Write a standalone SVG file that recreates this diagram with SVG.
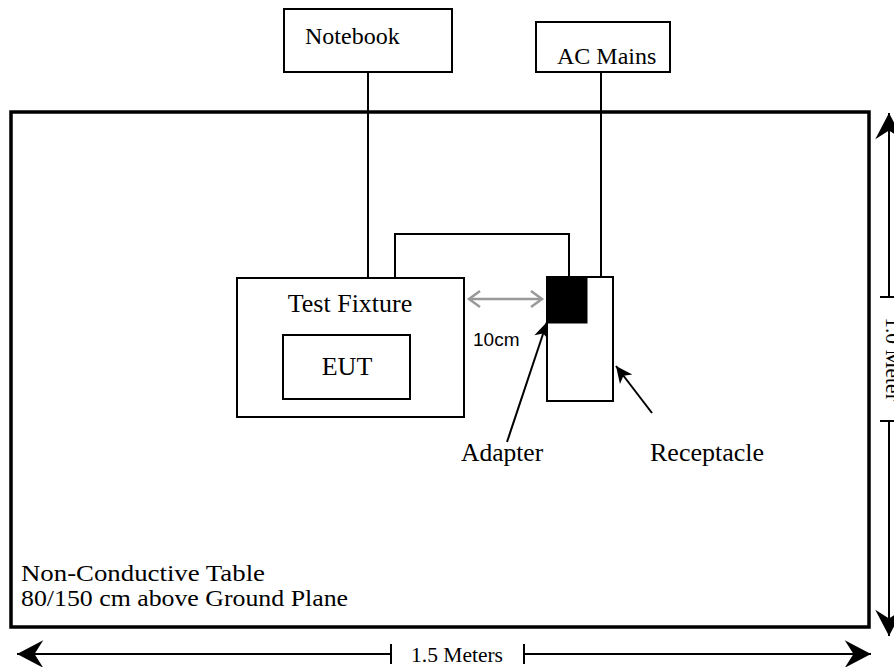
<svg xmlns="http://www.w3.org/2000/svg" width="894" height="667" viewBox="0 0 894 667">
<style>
.box{fill:#fff;stroke:#000;stroke-width:2}
.ln{fill:none;stroke:#000;stroke-width:2}
.t{font-family:"Liberation Serif","Times New Roman",serif;fill:#000}
.s{font-family:"Liberation Sans",Arial,sans-serif;fill:#000}
</style>
<defs>
<marker id="big" markerUnits="userSpaceOnUse" markerWidth="30" markerHeight="30" viewBox="-22 -12 24 24" refX="0" refY="0" orient="auto-start-reverse">
<path d="M0,0 L-21,-11 L-14,0 L-21,11 Z" fill="#000"/>
</marker>
<marker id="small" markerUnits="userSpaceOnUse" markerWidth="20" markerHeight="20" viewBox="-16 -8 18 16" refX="0" refY="0" orient="auto">
<path d="M0,0 L-15,-7 L-11,0 L-15,7 Z" fill="#000"/>
</marker>
<marker id="gray" markerUnits="userSpaceOnUse" markerWidth="20" markerHeight="20" viewBox="-14 -10 16 20" refX="0" refY="0" orient="auto-start-reverse">
<path d="M-11,-8 L0,0 L-11,8" fill="none" stroke="#999" stroke-width="2.5"/>
</marker>
</defs>
<rect x="0" y="0" width="894" height="667" fill="#fff"/>

<g id="table">
<rect x="11" y="112" width="858" height="515" fill="#fff" stroke="#000" stroke-width="3.5"/>
<text class="t" x="21" y="581" font-size="24" textLength="244" lengthAdjust="spacingAndGlyphs">Non-Conductive Table</text>
<text class="t" x="21" y="606" font-size="24" textLength="327" lengthAdjust="spacingAndGlyphs">80/150 cm above Ground Plane</text>
</g>

<g id="connectors">
<line class="ln" x1="368" y1="72" x2="368" y2="278"/>
<line class="ln" x1="601" y1="72" x2="601" y2="277"/>
<polyline class="ln" points="395,278 395,234 569,234 569,277"/>
<line x1="469" y1="299" x2="542" y2="299" stroke="#999" stroke-width="2.5" marker-start="url(#gray)" marker-end="url(#gray)"/>
<line class="ln" x1="507" y1="442" x2="547" y2="322" stroke-width="2.5" marker-end="url(#small)"/>
<line class="ln" x1="652" y1="413" x2="616" y2="366" stroke-width="2.5" marker-end="url(#small)"/>
</g>

<g id="notebook">
<rect class="box" x="284" y="9" width="168" height="63"/>
<text class="t" x="305" y="44" font-size="24">Notebook</text>
</g>

<g id="ac-mains">
<rect class="box" x="536" y="22" width="134" height="50"/>
<text class="t" x="557" y="64" font-size="24">AC Mains</text>
</g>

<g id="test-fixture">
<rect class="box" x="237" y="278" width="227" height="139"/>
<text class="t" x="350" y="312" font-size="26" text-anchor="middle">Test Fixture</text>
</g>

<g id="eut">
<rect class="box" x="283" y="335" width="127" height="64"/>
<text class="t" x="347" y="375" font-size="26" text-anchor="middle">EUT</text>
</g>

<g id="receptacle">
<rect class="box" x="547" y="277" width="66" height="124"/>
</g>

<g id="adapter">
<rect x="547" y="277" width="40" height="46" fill="#000" stroke="#000" stroke-width="1"/>
</g>

<g id="labels">
<text class="s" x="473" y="346" font-size="19">10cm</text>
<text class="t" x="461" y="461" font-size="25.5">Adapter</text>
<text class="t" x="650" y="461" font-size="26">Receptacle</text>
</g>

<g id="dimensions">
<line class="ln" x1="17" y1="654" x2="391" y2="654" marker-start="url(#big)"/>
<line class="ln" x1="391" y1="644" x2="391" y2="664"/>
<line class="ln" x1="524" y1="654" x2="871" y2="654" marker-end="url(#big)"/>
<line class="ln" x1="524" y1="644" x2="524" y2="664"/>
<text class="t" x="457" y="662" font-size="21.5" text-anchor="middle">1.5 Meters</text>
<line class="ln" x1="889" y1="113" x2="889" y2="297" marker-start="url(#big)"/>
<line class="ln" x1="880" y1="297" x2="894" y2="297"/>
<line class="ln" x1="889" y1="421" x2="889" y2="636" marker-end="url(#big)"/>
<line class="ln" x1="880" y1="421" x2="894" y2="421"/>
<text class="t" transform="translate(886,359) rotate(90)" font-size="21.5" text-anchor="middle">1.0 Meter</text>
</g>
</svg>
